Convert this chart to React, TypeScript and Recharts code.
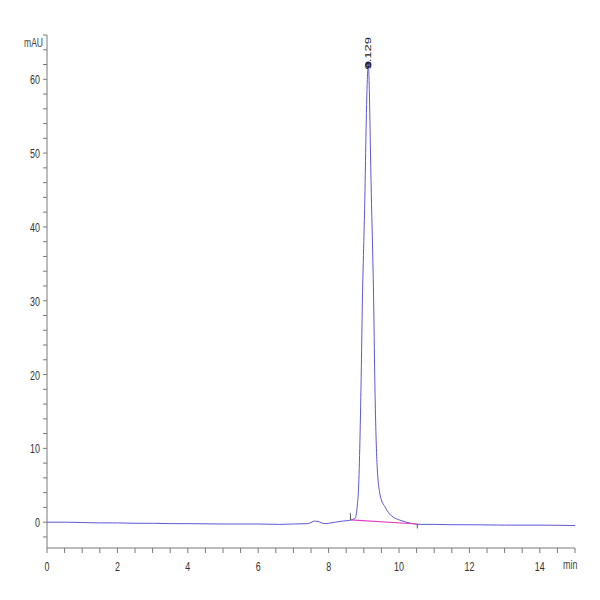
import { ComposedChart, Line, XAxis, YAxis, ReferenceDot, ReferenceLine } from "recharts";

// retention time (min) and absorbance (mAU) of the trace
const times = [
  0, 0.5, 1, 1.5, 2, 2.5, 3, 3.5, 4, 5, 6, 6.6, 7, 7.4, 7.5, 7.6, 7.7, 7.8, 7.9, 8, 8.2, 8.4, 8.6, 8.7,
  8.75, 8.78, 8.82, 8.85, 8.89, 8.93, 8.96, 9.0, 9.03, 9.06, 9.1, 9.129, 9.16, 9.19, 9.22, 9.25, 9.28,
  9.31, 9.34, 9.37, 9.4, 9.44, 9.5, 9.6, 9.7, 9.83, 10.03, 10.2, 10.4, 10.6, 11, 11.5, 12, 13, 14, 15,
];
const signal = [
  0, 0, -0.05, -0.1, -0.1, -0.15, -0.15, -0.2, -0.2, -0.25, -0.25, -0.3, -0.25, -0.2, -0.05, 0.15, 0.1,
  -0.1, -0.2, -0.15, 0, 0.15, 0.25, 0.4, 0.5, 0.9, 2.5, 4.5, 11, 21, 30, 38, 44, 52, 60, 62, 58, 50, 43,
  37, 30, 20, 13, 8.5, 6, 4.3, 3, 2.1, 1.3, 0.7, 0.27, 0, -0.2, -0.3, -0.3, -0.35, -0.35, -0.4, -0.4, -0.45,
];

// integration baseline
const baseTimes = [8.62, 10.52];
const baseValues = [0.3, -0.25];

const peakTime = 9.129;
const peakHeight = 62;
const peakLabel = "9.129";

const xTicks = Array.from({ length: 31 }, (_, i) => i * 0.5);
const yTicks = Array.from({ length: 35 }, (_, i) => -2 + i * 2);

const trace = times.map((t, i) => ({ t, v: signal[i] }));
const baseline = baseTimes.map((t, i) => ({ t, b: baseValues[i] }));

const FONT = "'Liberation Sans', Arial, sans-serif";
const SQUEEZE = 0.66;
const AXIS = "#7a7a7a";
const TRACE = "#5d58d6";

const YTick = (props: any) => {
  const { x, y, payload } = props;
  if (payload.value % 10 !== 0) return <g />;
  return (
    <text
      transform={`translate(${x},${y + 5}) scale(${SQUEEZE},1)`}
      textAnchor="end"
      fontSize={13.5}
      fill="#333"
      fontFamily={FONT}
    >
      {payload.value}
    </text>
  );
};

const XTick = (props: any) => {
  const { x, y, payload } = props;
  if (payload.value % 2 !== 0 || payload.value > 14) return <g />;
  return (
    <text
      transform={`translate(${x},${y + 10}) scale(${SQUEEZE},1)`}
      textAnchor="middle"
      fontSize={13.5}
      fill="#333"
      fontFamily={FONT}
    >
      {payload.value}
    </text>
  );
};

const PeakMark = (props: any) => {
  const { cx, cy } = props;
  return (
    <g>
      <circle cx={cx} cy={cy} r={2.5} fill="#8080c0" stroke="#23235a" strokeWidth={1.2} />
      <text
        transform={`translate(${cx + 2.5},${cy + 5}) scale(${SQUEEZE},1) rotate(-90)`}
        fontSize={13}
        fill="#222"
        fontFamily={FONT}
      >
        {peakLabel}
      </text>
    </g>
  );
};

export default function App() {
  return (
    <div style={{ position: "absolute", left: 0, top: 0, width: 600, height: 600, background: "#fff" }}>
      <ComposedChart width={600} height={600} data={trace} margin={{ top: 35, right: 25, bottom: 22, left: 0 }}>
        <XAxis
          dataKey="t"
          type="number"
          domain={[0, 15]}
          ticks={xTicks}
          interval={0}
          tick={<XTick />}
          tickSize={5}
          tickMargin={8}
          height={30}
          stroke={AXIS}
          allowDataOverflow
        />
        <YAxis
          type="number"
          domain={[-3.5, 66]}
          ticks={yTicks}
          interval={0}
          tick={<YTick />}
          tickSize={4}
          tickMargin={3}
          width={47}
          stroke={AXIS}
          allowDataOverflow
        />
        <Line
          dataKey="v"
          type="monotone"
          stroke={TRACE}
          strokeWidth={1}
          dot={false}
          isAnimationActive={false}
        />
        <Line
          data={baseline}
          dataKey="b"
          type="linear"
          stroke="#e040c0"
          strokeWidth={1.2}
          dot={false}
          isAnimationActive={false}
        />
        <ReferenceLine
          segment={[
            { x: baseTimes[0], y: baseValues[0] },
            { x: baseTimes[0], y: baseValues[0] + 0.9 },
          ]}
          stroke="#555"
          strokeWidth={1}
        />
        <ReferenceLine
          segment={[
            { x: baseTimes[1], y: baseValues[1] },
            { x: baseTimes[1], y: baseValues[1] - 0.6 },
          ]}
          stroke="#555"
          strokeWidth={1}
        />
        <ReferenceDot x={peakTime} y={peakHeight} shape={<PeakMark />} />
      </ComposedChart>
      <div
        style={{
          position: "absolute",
          left: 24,
          top: 35,
          fontSize: 13,
          color: "#444",
          fontFamily: FONT,
          transform: `scaleX(${SQUEEZE})`,
          transformOrigin: "left top",
        }}
      >
        mAU
      </div>
      <div
        style={{
          position: "absolute",
          left: 563,
          top: 557,
          fontSize: 13.5,
          color: "#444",
          fontFamily: FONT,
          transform: `scaleX(${SQUEEZE})`,
          transformOrigin: "left top",
        }}
      >
        min
      </div>
    </div>
  );
}
